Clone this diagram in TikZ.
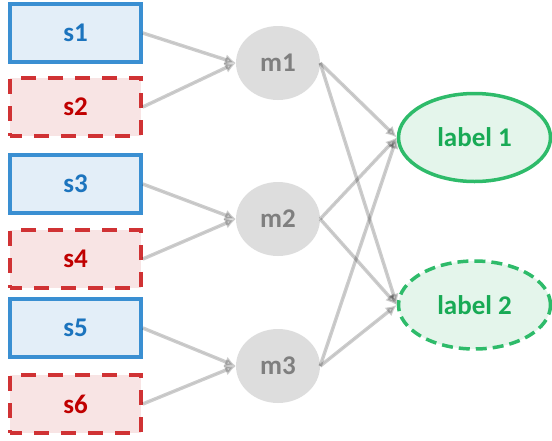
\documentclass[tikz,border=0pt]{standalone}
\usepackage{fontspec}
\setmainfont{Carlito}
\usetikzlibrary{shapes.geometric,arrows.meta}
\definecolor{bluebd}{HTML}{3A8FD2}
\definecolor{bluefill}{HTML}{E3EEF8}
\definecolor{bluetxt}{HTML}{1C74BE}
\definecolor{redbd}{HTML}{D03234}
\definecolor{redfill}{HTML}{F8E4E4}
\definecolor{redtxt}{HTML}{C00000}
\definecolor{midfill}{HTML}{DDDDDD}
\definecolor{midtxt}{HTML}{7F7F7F}
\definecolor{greenbd}{HTML}{2EBB6A}
\definecolor{greenfill}{HTML}{E4F5EB}
\definecolor{greentxt}{HTML}{18AA55}
\tikzset{
  srcbox/.style={rectangle, minimum width=131pt, minimum height=58pt, inner sep=0pt,
    font=\fontsize{27}{30}\selectfont\bfseries},
  solidsrc/.style={srcbox, draw=bluebd, fill=bluefill, line width=3.5pt, text=bluetxt},
  dashsrc/.style={srcbox, draw=redbd, fill=redfill, line width=3.5pt, text=redtxt,
    dash pattern=on 15pt off 12pt, dash phase=3pt},
  midnode/.style={ellipse, minimum width=84pt, minimum height=74pt, inner sep=0pt,
    fill=midfill, text=midtxt, font=\fontsize{27}{30}\selectfont\bfseries},
  lab/.style={ellipse, minimum width=152pt, minimum height=88pt, inner sep=0pt,
    draw=greenbd, fill=greenfill, line width=3.5pt, text=greentxt,
    font=\fontsize{27}{30}\selectfont\bfseries},
  labdash/.style={lab, dash pattern=on 11pt off 6pt},
  conn/.style={draw=black, fill=black, opacity=0.2, line width=3.5pt,
    -{Latex[length=11pt,width=11pt]}},
}
\begin{document}
\begin{tikzpicture}[x=1pt,y=-1pt]
\useasboundingbox (0,0) rectangle (552,440);
\node[solidsrc] (s1) at (75.5,33) {s1};
\node[dashsrc]  (s2) at (75.5,107) {s2};
\node[solidsrc] (s3) at (75.5,184) {s3};
\node[dashsrc]  (s4) at (75.5,259) {s4};
\node[solidsrc] (s5) at (75.5,328) {s5};
\node[dashsrc]  (s6) at (75.5,404) {s6};
\node[midnode] (m1) at (278,63) {m1};
\node[midnode] (m2) at (278,219) {m2};
\node[midnode] (m3) at (278,366) {m3};
\node[lab] (l1) at (474.5,137.5) {label 1};
\node[labdash] (l2) at (474.5,305) {label 2};
\draw[conn] (s1.east) -- (m1.west);
\draw[conn] (s2.east) -- (m1.west);
\draw[conn] (s3.east) -- (m2.west);
\draw[conn] (s4.east) -- (m2.west);
\draw[conn] (s5.east) -- (m3.west);
\draw[conn] (s6.east) -- (m3.west);
\draw[conn] (m1.east) -- (l1.west);
\draw[conn] (m1.east) -- (l2.west);
\draw[conn] (m2.east) -- (l1.west);
\draw[conn] (m2.east) -- (l2.west);
\draw[conn] (m3.east) -- (l1.west);
\draw[conn] (m3.east) -- (l2.west);
\end{tikzpicture}
\end{document}
